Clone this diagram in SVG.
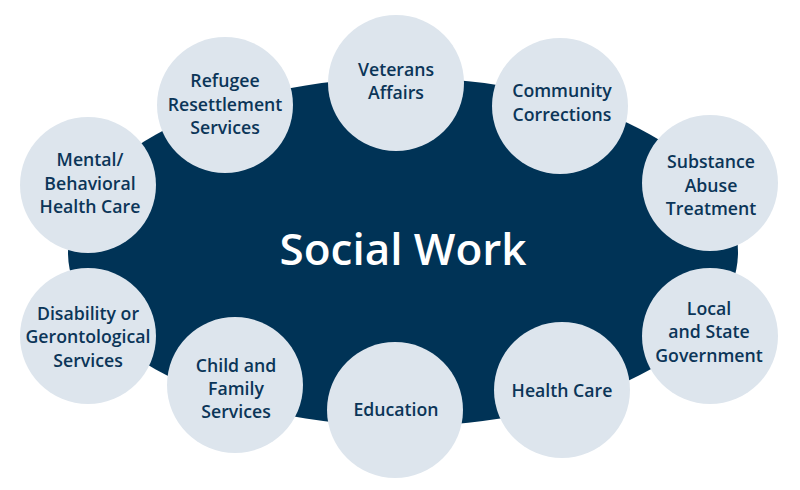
<svg xmlns="http://www.w3.org/2000/svg" width="800" height="490" viewBox="0 0 800 490">
<style>
.node circle{fill:#dde5ed}
.node text{font-family:"Open Sans","Liberation Sans",sans-serif;font-size:17.7px;font-weight:600;fill:#0b3558;text-anchor:middle}
.title{font-family:"Open Sans","Liberation Sans",sans-serif;font-size:44px;font-weight:600;fill:#ffffff;text-anchor:middle}
</style>
<rect width="800" height="490" fill="#ffffff"/>
<g id="center">
<ellipse cx="403" cy="252" rx="335" ry="174" fill="#003356"/>
<text class="title" x="403" y="265">Social Work</text>
</g>
<g id="connectors"></g>
<g id="refugee" class="node"><circle cx="225" cy="105" r="68"/><text x="225" y="87">Refugee</text><text x="225" y="111">Resettlement</text><text x="225" y="134">Services</text></g>
<g id="veterans" class="node"><circle cx="396" cy="83" r="68"/><text x="396" y="76">Veterans</text><text x="396" y="99">Affairs</text></g>
<g id="community" class="node"><circle cx="560" cy="106" r="68"/><text x="562" y="97">Community</text><text x="562" y="121">Corrections</text></g>
<g id="mental" class="node"><circle cx="88" cy="185" r="68"/><text x="90" y="166">Mental/</text><text x="90" y="190">Behavioral</text><text x="90" y="213">Health Care</text></g>
<g id="substance" class="node"><circle cx="710" cy="183" r="68"/><text x="711" y="168">Substance</text><text x="711" y="192">Abuse</text><text x="711" y="215">Treatment</text></g>
<g id="disability" class="node"><circle cx="88" cy="336" r="68"/><text x="88" y="320">Disability or</text><text x="88" y="343">Gerontological</text><text x="88" y="367">Services</text></g>
<g id="local" class="node"><circle cx="710" cy="336" r="68"/><text x="709" y="315">Local</text><text x="709" y="338">and State</text><text x="709" y="362">Government</text></g>
<g id="child" class="node"><circle cx="235" cy="385" r="68"/><text x="236" y="372">Child and</text><text x="236" y="395">Family</text><text x="236" y="418">Services</text></g>
<g id="education" class="node"><circle cx="395" cy="410" r="68"/><text x="396" y="416">Education</text></g>
<g id="healthcare" class="node"><circle cx="562" cy="390" r="68"/><text x="562" y="397">Health Care</text></g>
</svg>
